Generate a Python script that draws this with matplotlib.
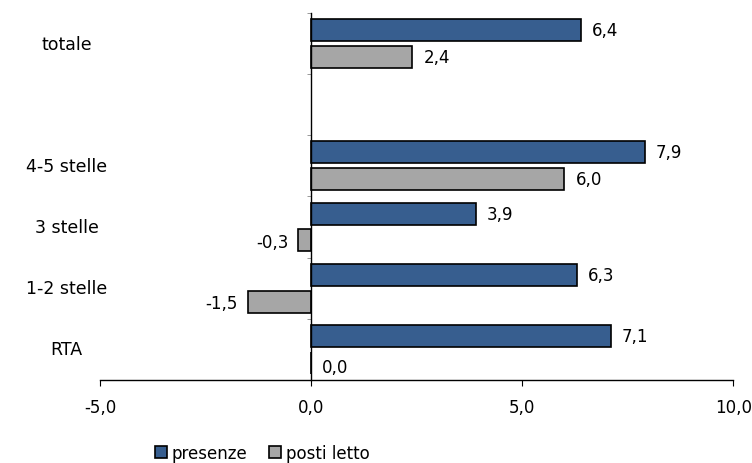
import numpy as np
import matplotlib
matplotlib.use('Agg')
import matplotlib.pyplot as plt
from matplotlib.ticker import FuncFormatter, FixedLocator
from matplotlib.transforms import blended_transform_factory

categories = ['RTA', '1-2 stelle', '3 stelle', '4-5 stelle', '', 'totale']
presenze = [7.1, 6.3, 3.9, 7.9, np.nan, 6.4]
posti_letto = [0.0, -1.5, -0.3, 6.0, np.nan, 2.4]
xticks = [-5, 0, 5, 10]

blue = '#375E8F'
grey = '#A6A6A6'


def fmt(v):
    return '{:.1f}'.format(v).replace('.', ',')


fig = plt.figure(figsize=(7.52, 4.64), dpi=100)
ax = fig.add_axes([0.133, 0.179, 0.842, 0.791])

y = np.arange(len(categories))
h = 0.36
off = 0.22
b1 = ax.barh(y + off, presenze, height=h, color=blue, edgecolor='black', linewidth=1.2, label='presenze')
b2 = ax.barh(y - off, posti_letto, height=h, color=grey, edgecolor='black', linewidth=1.2, label='posti letto')

# value labels next to the bar ends
for ypos, vals in ((y + off, presenze), (y - off, posti_letto)):
    for yy, v in zip(ypos, vals):
        if np.isnan(v):
            continue
        if v < 0:
            ax.annotate(fmt(v), (v, yy), xytext=(-7, -1), textcoords='offset points',
                        ha='right', va='center', fontsize=12)
        else:
            ax.annotate(fmt(v), (v, yy), xytext=(8, -3 if v == 0 else 0), textcoords='offset points',
                        ha='left', va='center', fontsize=12)

ax.set_xlim(-5, 10)
ax.set_ylim(-0.5, len(categories) - 0.5)

for s in ('top', 'right'):
    ax.spines[s].set_visible(False)
ax.spines['left'].set_position(('data', 0))
ax.spines['bottom'].set_linewidth(1)
ax.spines['left'].set_linewidth(1)

ax.xaxis.set_major_locator(FixedLocator(xticks))
ax.xaxis.set_major_formatter(FuncFormatter(lambda v, p: fmt(v)))
ax.tick_params(axis='x', direction='out', length=4, width=0.8, labelsize=12, pad=9, colors='black')

ax.yaxis.set_major_locator(FixedLocator(np.arange(len(categories) + 1) - 0.5))
ax.tick_params(axis='y', direction='out', length=3, width=0.6, color='#888888', labelleft=False)

trans = blended_transform_factory(ax.transAxes, ax.transData)
for yy, name in zip(y, categories):
    ax.text(-0.053, yy, name, transform=trans, ha='center', va='center', fontsize=12.5)

fig.legend(handles=[b1, b2], labels=['presenze', 'posti letto'], loc='lower left',
           bbox_to_anchor=(0.186, -0.03), ncol=2, frameon=False, fontsize=12,
           handlelength=0.75, handleheight=0.75, handletextpad=0.25, columnspacing=1.3)

fig.savefig('out.png', dpi=100)
